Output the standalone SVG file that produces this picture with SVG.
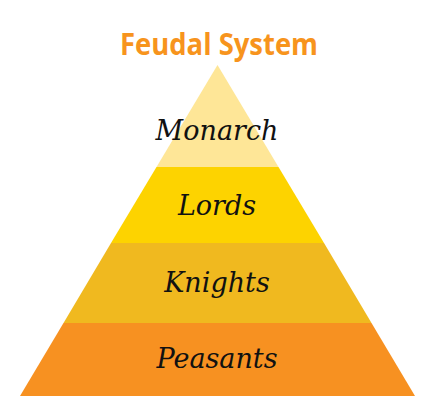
<svg xmlns="http://www.w3.org/2000/svg" width="437" height="407" viewBox="0 0 437 407">
<style>
.lbl{font-family:"DejaVu Serif","Liberation Serif",serif;font-style:italic;font-size:27px;fill:#111;text-anchor:middle}
.title{font-family:"Open Sans","Liberation Sans",sans-serif;font-weight:bold;font-size:30px;fill:#F7941D;text-anchor:middle}
</style>
<rect width="437" height="407" fill="#fff"/>
<text class="title" x="219" y="55" textLength="198" lengthAdjust="spacingAndGlyphs">Feudal System</text>
<g id="monarch">
<polygon points="217.5,65 278.5,167 156.5,167" fill="#FEE697"/>
<text class="lbl" x="217" y="140">Monarch</text>
</g>
<g id="lords">
<polygon points="156.5,167 278.5,167 324,243 111,243" fill="#FDD300"/>
<text class="lbl" x="217" y="215">Lords</text>
</g>
<g id="knights">
<polygon points="111,243 324,243 371.5,323 63.5,323" fill="#F0B91F"/>
<text class="lbl" x="217" y="292">Knights</text>
</g>
<g id="peasants">
<polygon points="63.5,323 371.5,323 415,396 20,396" fill="#F79121"/>
<text class="lbl" x="217" y="368">Peasants</text>
</g>
<g id="connectors"/>
</svg>
